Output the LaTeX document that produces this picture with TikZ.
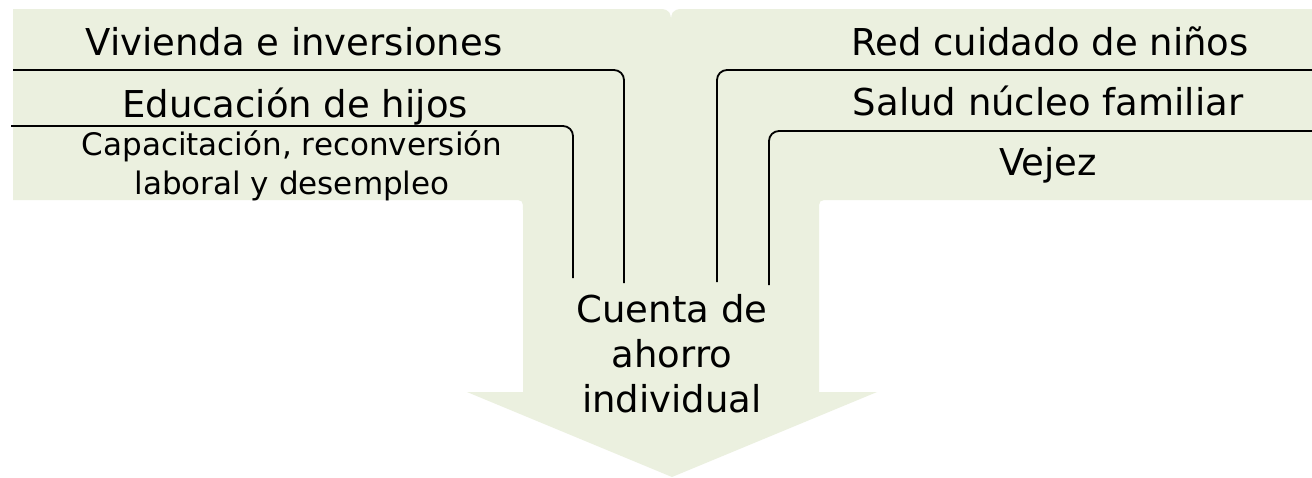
\documentclass[tikz,border=0pt]{standalone}
\usepackage{fontspec}
\setmainfont{DejaVu Sans}
\definecolor{bandgreen}{RGB}{235,240,223}
\tikzset{
  lbl/.style={inner sep=0pt, anchor=base, font=\fontsize{37}{45}\selectfont, text=black},
  lblsmall/.style={inner sep=0pt, align=center, font=\fontsize{31}{39}\selectfont, text=black},
  guide/.style={draw=black, line width=1.8pt, rounded corners=10pt},
}
\begin{document}
\begin{tikzpicture}[x=1pt,y=-1pt]
\useasboundingbox (0,0) rectangle (1312,477);
\fill[white] (0,0) rectangle (1312,477);
% green band with down arrow
\fill[bandgreen] (13,9) -- (660,9) .. controls (670,9) and (671,14) .. (671,21)
  .. controls (671,14) and (672,9) .. (682,9) -- (1312,9) -- (1312,200)
  -- (830,200) .. controls (819,200) .. (819,211) -- (819,392) -- (877,392)
  -- (672,477) -- (467,392) -- (523,392) -- (523,211)
  .. controls (523,200) .. (512,200) -- (13,200) -- cycle;
% guide lines
\coordinate (l1a) at (13,70);   \coordinate (l1c) at (624,70);  \coordinate (l1b) at (624,283);
\coordinate (l2a) at (11,126);  \coordinate (l2c) at (573,126); \coordinate (l2b) at (573,278);
\coordinate (r1a) at (1312,70); \coordinate (r1c) at (717,70);  \coordinate (r1b) at (717,282);
\coordinate (r2a) at (1312,131);\coordinate (r2c) at (769,131); \coordinate (r2b) at (769,285);
\draw[guide] (l1a) -- (l1c) -- (l1b);
\draw[guide] (l2a) -- (l2c) -- (l2b);
\draw[guide] (r1a) -- (r1c) -- (r1b);
\draw[guide] (r2a) -- (r2c) -- (r2b);
% labels
\node[lbl] (viv) at (294,55) {Vivienda e inversiones};
\node[lbl] (edu) at (295,117) {Educación de hijos};
\node[lblsmall] (cap) at (292,166) {Capacitación, reconversión\\laboral y desempleo};
\node[lbl] (red) at (1050,55) {Red cuidado de niños};
\node[lbl] (sal) at (1048,115) {Salud núcleo familiar};
\node[lbl] (vej) at (1048,175) {Vejez};
\node[lbl] (cu1) at (672,322) {Cuenta de};
\node[lbl] (cu2) at (672,367) {ahorro};
\node[lbl] (cu3) at (672,412) {individual};
\end{tikzpicture}
\end{document}
